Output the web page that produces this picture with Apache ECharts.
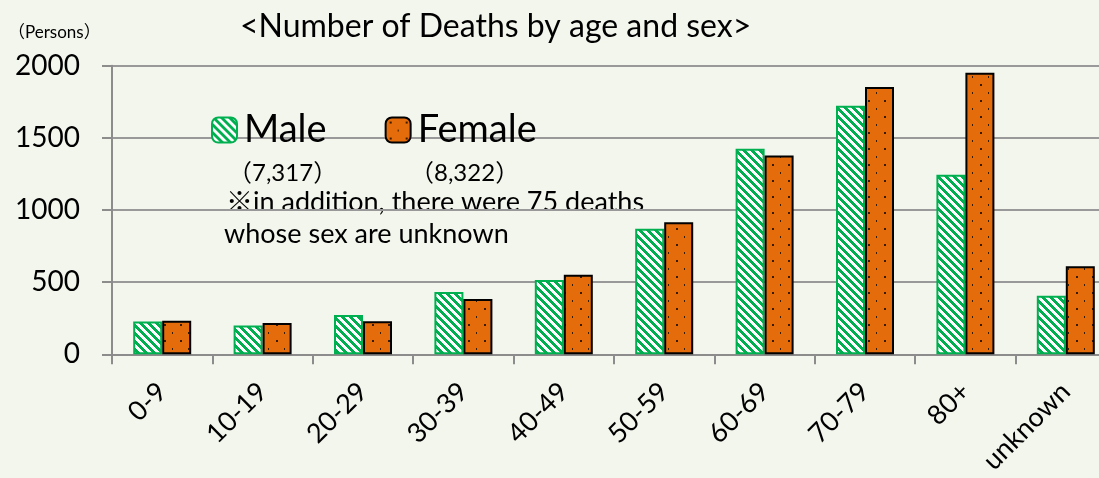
<!DOCTYPE html>
<html>
<head>
<meta charset="utf-8">
<script src="https://cdn.jsdelivr.net/npm/echarts@6/dist/echarts.min.js"></script>
<style>
html,body{margin:0;padding:0;background:#f3f6ed;}
#chart{width:1099px;height:478px;}
</style>
</head>
<body>
<div id="chart"></div>
<script>
const categories = ['0-9','10-19','20-29','30-39','40-49','50-59','60-69','70-79','80+','unknown'];
const maleValues = [228, 200, 272, 432, 515, 870, 1425, 1723, 1245, 406];
const femaleValues = [232, 217, 229, 383, 552, 915, 1378, 1853, 1952, 610];
const seriesNames = ['Male', 'Female'];
const yTicks = { min: 0, max: 2000, interval: 500 };
const titleText = '<Number of Deaths by age and sex>';
const unitText = '（Persons）';
const maleTotalText = '（7,317）';
const femaleTotalText = '（8,322）';
const noteLine1 = '※in addition, there were 75 deaths';
const noteLine2 = 'whose sex are unknown';

const FONT = 'Lato, "Noto Sans CJK JP", sans-serif';

function makeMalePattern() {
  const c = document.createElement('canvas');
  c.width = 8; c.height = 8;
  const ctx = c.getContext('2d');
  ctx.fillStyle = '#ffffff';
  ctx.fillRect(0, 0, 8, 8);
  ctx.fillStyle = '#00b050';
  for (let y = 0; y < 8; y++) {
    for (let x = 0; x < 8; x++) {
      const d = ((x - y) % 8 + 8) % 8;
      if (d < 4) ctx.fillRect(x, y, 1, 1);
    }
  }
  return c;
}
function makeFemalePattern() {
  const c = document.createElement('canvas');
  c.width = 16; c.height = 16;
  const ctx = c.getContext('2d');
  ctx.fillStyle = '#e46c0a';
  ctx.fillRect(0, 0, 16, 16);
  ctx.fillStyle = '#3a1a00';
  ctx.fillRect(4, 4, 2, 2);
  ctx.fillRect(12, 12, 1, 2);
  return c;
}

const chart = echarts.init(document.getElementById('chart'), null, { renderer: 'canvas' });

const option = {
  backgroundColor: '#f3f6ed',
  animation: false,
  textStyle: { fontFamily: FONT },
  grid: { left: 112, top: 65.7, bottom: 478 - 354.3, right: -17, containLabel: false, outerBoundsMode: 'none' },
  legend: {
    data: seriesNames,
    left: 206, top: 106,
    itemWidth: 25, itemHeight: 25,
    itemGap: 58,
    textStyle: { fontSize: 38, color: '#000', fontFamily: FONT, padding: [0, 0, 0, 2] }
  },
  xAxis: {
    type: 'category',
    data: categories,
    axisLine: { lineStyle: { color: '#8c8c8c', width: 2 } },
    axisTick: { show: true, length: 10, lineStyle: { color: '#8c8c8c', width: 2 } },
    axisLabel: { rotate: 45, margin: 33, fontSize: 27, color: '#000', fontFamily: FONT, interval: 0 }
  },
  yAxis: {
    type: 'value',
    min: yTicks.min, max: yTicks.max, interval: yTicks.interval,
    axisLine: { show: true, lineStyle: { color: '#8c8c8c', width: 2 } },
    axisTick: { show: true, length: 10, lineStyle: { color: '#8c8c8c', width: 2 } },
    axisLabel: { margin: 32, fontSize: 28, color: '#000', fontFamily: FONT, formatter: function (v) { return String(v); } },
    splitLine: { lineStyle: { color: '#999999', width: 2 } }
  },
  series: [
    {
      name: seriesNames[0], type: 'bar', data: maleValues,
      barWidth: 29, barGap: '0%',
      itemStyle: { color: { image: makeMalePattern(), repeat: 'repeat' }, borderColor: '#00b050', borderWidth: 2 }
    },
    {
      name: seriesNames[1], type: 'bar', data: femaleValues,
      barWidth: 29, barGap: '0%',
      itemStyle: { color: { image: makeFemalePattern(), repeat: 'repeat' }, borderColor: '#000000', borderWidth: 2 }
    }
  ],
  graphic: [
    { type: 'text', left: 240, top: 11, style: { text: titleText, font: '32px ' + FONT, fill: '#000' } },
    { type: 'text', left: 8, top: 24, style: { text: unitText, font: '17px ' + FONT, fill: '#000' } },
    { type: 'text', left: 228, top: 161, style: { text: maleTotalText, font: '24px ' + FONT, fill: '#000' } },
    { type: 'text', left: 410, top: 161, style: { text: femaleTotalText, font: '24px ' + FONT, fill: '#000' } },
    { type: 'text', left: 226, top: 189, style: { text: noteLine1, font: '27px ' + FONT, fill: '#000' } },
    { type: 'text', left: 224, top: 221, style: { text: noteLine2, font: '27px ' + FONT, fill: '#000' } }
  ]
};
chart.setOption(option);
</script>
</body>
</html>
